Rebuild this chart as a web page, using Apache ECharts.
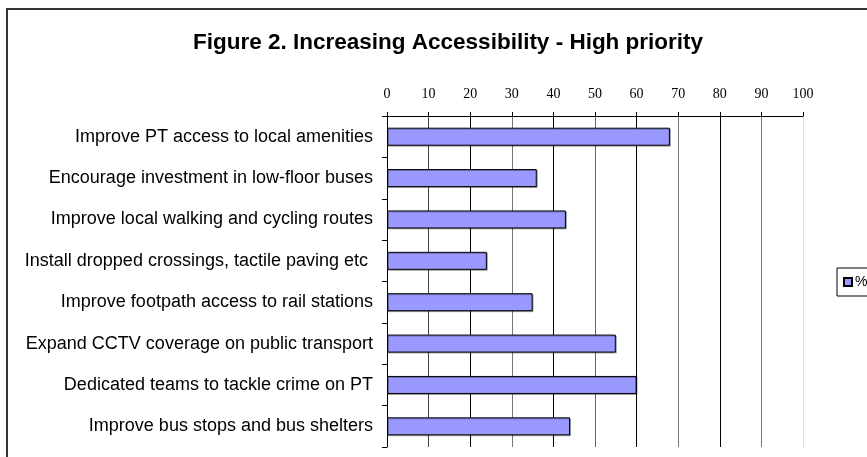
<!DOCTYPE html>
<html>
<head>
<meta charset="utf-8">
<script src="https://cdn.jsdelivr.net/npm/echarts@6/dist/echarts.min.js"></script>
<style>html,body{margin:0;padding:0;background:#fff;}#c{width:867px;height:457px;}</style>
</head>
<body>
<div id="c"></div>
<script>
var categories = [
  "Improve PT access to local amenities",
  "Encourage investment in low-floor buses",
  "Improve local walking and cycling routes",
  "Install dropped crossings, tactile paving etc ",
  "Improve footpath access to rail stations",
  "Expand CCTV coverage on public transport",
  "Dedicated teams to tackle crime on PT",
  "Improve bus stops and bus shelters"
];
var percentValues = [68, 36, 43, 24, 35, 55, 60, 44];
var seriesName = "%";
var titleText = "Figure 2. Increasing Accessibility - High priority";

var chart = echarts.init(document.getElementById('c'));
chart.setOption({
  animation: false,
  backgroundColor: '#fff',
  title: {
    text: titleText,
    left: 188, top: 26,
    textStyle: {fontFamily: 'Liberation Sans', fontWeight: 'bold', fontSize: 22.5, color: '#000'}
  },
  graphic: [{
    type: 'rect', silent: true, z: -1,
    shape: {x: 7, y: 9, width: 1000, height: 600},
    style: {fill: 'none', stroke: '#333', lineWidth: 2}
  }],
  legend: {
    data: [seriesName],
    left: 837, top: 268,
    orient: 'vertical',
    backgroundColor: '#fff',
    borderColor: '#000', borderWidth: 1, borderRadius: 0,
    padding: [7, 20, 7, 6],
    itemWidth: 8, itemHeight: 8, itemGap: 4,
    icon: 'rect',
    textStyle: {fontFamily: 'Liberation Sans', fontSize: 14, color: '#000', padding: [0,0,0,-2]}
  },
  grid: {left: 387, right: 64, top: 116, bottom: 10, containLabel: false},
  xAxis: {
    type: 'value', position: 'top', min: 0, max: 100, interval: 10,
    axisLine: {show: true, lineStyle: {color: '#000', width: 1}},
    axisTick: {show: true, length: 4, inside: false, lineStyle: {color: '#000'}},
    axisLabel: {fontFamily: 'Liberation Serif', fontSize: 14, color: '#000', margin: 15},
    splitLine: {show: true, lineStyle: {color: ['#000','#444','#000','#777','#000','#666','#000','#777','#000','#777','#ddd'], width: 1}}
  },
  yAxis: {
    type: 'category', data: categories, inverse: true,
    axisLine: {show: true, lineStyle: {color: '#000', width: 1}},
    axisTick: {show: true, length: 5, lineStyle: {color: '#000'}},
    axisLabel: {fontFamily: 'Liberation Sans', fontSize: 18, color: '#000', margin: 14}
  },
  series: [{
    name: seriesName, type: 'bar', data: percentValues, barWidth: 18,
    itemStyle: {color: '#9999FF', borderColor: '#000', borderWidth: 1,
      shadowColor: 'rgba(0,0,0,0.3)', shadowOffsetX: 1, shadowOffsetY: 1, shadowBlur: 0}
  }]
});
</script>
</body>
</html>
